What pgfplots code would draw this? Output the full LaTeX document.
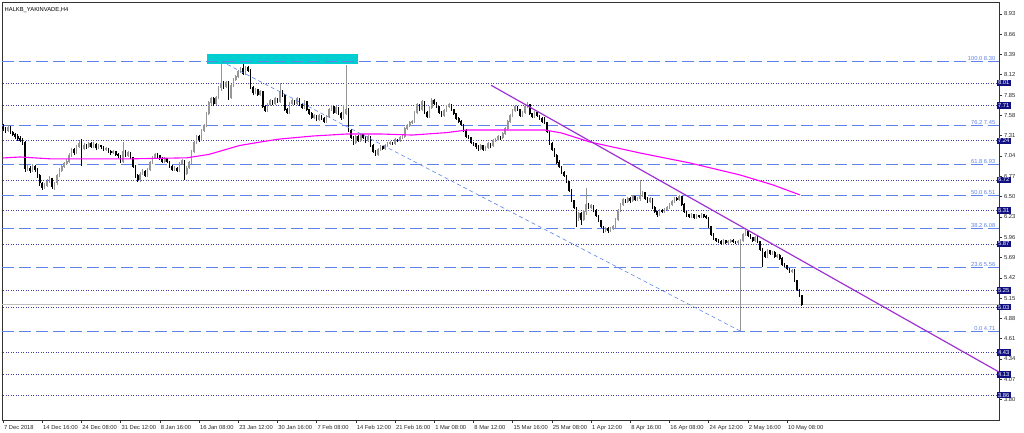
\documentclass[border=0pt]{standalone}
\usepackage{pgfplots}
\usepackage{pgfplotstable}
\pgfplotsset{compat=1.18}
\usepackage{fontspec}
\setmainfont{Liberation Sans}
\definecolor{navybox}{RGB}{16,16,128}
\definecolor{dotblue}{RGB}{60,60,170}
\definecolor{fibblue}{RGB}{95,130,235}
\definecolor{bullgray}{RGB}{150,150,150}
\definecolor{maMag}{RGB}{255,0,255}
\definecolor{trendpurple}{RGB}{160,50,210}
\definecolor{boxcyan}{RGB}{0,206,209}
\newcommand{\tf}{\fontsize{5.8}{6.5}\selectfont}

\pgfplotstableread{
o h l c
7.42 7.46 7.37 7.40
7.40 7.43 7.35 7.38
7.38 7.45 7.36 7.42
7.42 7.44 7.33 7.35
7.35 7.37 7.30 7.33
7.33 7.35 7.27 7.30
7.30 7.33 7.24 7.27
7.27 7.30 7.22 7.25
7.25 7.28 7.19 7.22
7.22 7.24 6.83 6.87
6.87 6.92 6.84 6.88
6.88 6.90 6.81 6.84
6.84 6.93 6.82 6.90
6.90 6.92 6.83 6.86
6.86 6.88 6.75 6.78
6.78 6.80 6.64 6.68
6.68 6.70 6.59 6.62
6.62 6.68 6.60 6.65
6.65 6.73 6.63 6.70
6.70 6.77 6.68 6.74
6.74 6.75 6.60 6.63
6.63 6.70 6.59 6.68
6.68 6.80 6.66 6.78
6.78 6.88 6.76 6.85
6.85 6.92 6.83 6.90
6.90 6.96 6.88 6.94
6.94 7.00 6.92 6.97
6.97 7.08 6.95 7.05
7.05 7.15 7.03 7.12
7.12 7.14 7.05 7.08
7.08 7.19 7.06 7.16
7.16 7.25 7.14 7.20
7.20 7.26 6.90 7.14
7.14 7.21 7.12 7.18
7.18 7.20 7.13 7.16
7.16 7.23 7.14 7.20
7.20 7.22 7.14 7.17
7.17 7.22 7.15 7.19
7.19 7.21 7.12 7.15
7.15 7.20 7.13 7.18
7.18 7.19 7.13 7.16
7.16 7.17 7.10 7.12
7.12 7.16 7.10 7.14
7.14 7.15 7.08 7.10
7.10 7.12 7.05 7.08
7.08 7.12 7.06 7.10
7.10 7.11 7.04 7.06
7.06 7.08 7.01 7.04
7.04 7.05 6.94 6.97
6.97 7.23 6.95 7.10
7.10 7.12 7.02 7.05
7.05 7.10 7.03 7.08
7.08 7.09 7.00 7.02
7.02 7.03 6.88 6.90
6.90 6.92 6.75 6.78
6.78 6.80 6.69 6.72
6.72 6.82 6.70 6.80
6.80 6.86 6.78 6.84
6.84 6.85 6.76 6.78
6.78 6.88 6.76 6.86
6.86 6.97 6.84 6.95
6.95 7.04 6.93 7.02
7.02 7.08 7.00 7.06
7.06 7.08 7.01 7.04
7.04 7.05 6.98 7.00
7.00 7.02 6.95 6.97
6.97 7.02 6.95 7.00
7.00 7.01 6.94 6.96
6.96 6.97 6.88 6.90
6.90 6.92 6.84 6.86
6.86 6.90 6.84 6.88
6.88 6.89 6.83 6.85
6.85 6.96 6.83 6.94
6.94 7.00 6.92 6.98
6.98 6.99 6.72 6.80
6.80 6.90 6.78 6.88
6.88 6.97 6.86 6.95
6.95 7.12 6.93 7.10
7.10 7.24 7.08 7.22
7.22 7.32 7.20 7.30
7.30 7.32 7.23 7.26
7.26 7.40 7.24 7.38
7.38 7.47 7.36 7.45
7.45 7.62 7.43 7.60
7.60 7.77 7.58 7.75
7.75 7.83 7.72 7.80
7.80 7.82 7.71 7.74
7.74 7.84 7.72 7.82
7.82 7.97 7.80 7.95
7.95 8.30 7.90 8.00
8.00 8.03 7.93 7.96
7.96 8.04 7.94 8.02
8.02 8.03 7.78 7.82
7.82 8.00 7.80 7.98
7.98 8.07 7.96 8.05
8.05 8.12 8.03 8.10
8.10 8.18 8.08 8.16
8.16 8.22 8.14 8.20
8.20 8.26 8.12 8.14
8.14 8.24 8.12 8.22
8.22 8.23 8.15 8.18
8.18 8.19 7.93 7.95
7.95 7.97 7.85 7.88
7.88 7.94 7.86 7.92
7.92 7.93 7.84 7.86
7.86 7.92 7.84 7.90
7.90 7.91 7.68 7.70
7.70 7.72 7.62 7.65
7.65 7.74 7.63 7.72
7.72 7.80 7.70 7.78
7.78 7.79 7.72 7.74
7.74 7.82 7.72 7.80
7.80 7.81 7.74 7.76
7.76 8.01 7.74 7.90
7.90 7.92 7.83 7.85
7.85 7.86 7.64 7.66
7.66 7.68 7.60 7.62
7.62 7.76 7.60 7.74
7.74 7.80 7.72 7.78
7.78 7.79 7.72 7.74
7.74 7.82 7.72 7.80
7.80 7.81 7.70 7.72
7.72 7.74 7.66 7.68
7.68 7.78 7.66 7.76
7.76 7.77 7.64 7.66
7.66 7.67 7.58 7.60
7.60 7.62 7.53 7.55
7.55 7.60 7.53 7.58
7.58 7.59 7.50 7.52
7.52 7.60 7.50 7.58
7.58 7.59 7.52 7.54
7.54 7.56 7.48 7.50
7.50 7.58 7.48 7.56
7.56 7.68 7.54 7.66
7.66 7.72 7.64 7.70
7.70 7.71 7.60 7.62
7.62 7.70 7.60 7.68
7.68 7.69 7.58 7.60
7.60 7.62 7.52 7.55
7.55 7.72 7.53 7.60
7.60 8.25 7.58 7.66
7.66 7.68 7.36 7.38
7.38 7.40 7.26 7.28
7.28 7.30 7.19 7.22
7.22 7.32 7.20 7.30
7.30 7.32 7.23 7.25
7.25 7.34 7.23 7.32
7.32 7.33 7.26 7.28
7.28 7.30 7.21 7.24
7.24 7.32 7.22 7.30
7.30 7.31 7.16 7.18
7.18 7.20 7.08 7.10
7.10 7.12 7.04 7.06
7.06 7.14 7.04 7.12
7.12 7.18 7.10 7.16
7.16 7.17 7.12 7.14
7.14 7.20 7.12 7.18
7.18 7.22 7.16 7.20
7.20 7.24 7.18 7.22
7.22 7.23 7.18 7.20
7.20 7.28 7.18 7.26
7.26 7.27 7.22 7.24
7.24 7.30 7.22 7.28
7.28 7.32 7.26 7.30
7.30 7.42 7.28 7.40
7.40 7.46 7.38 7.44
7.44 7.50 7.42 7.48
7.48 7.52 7.46 7.50
7.50 7.64 7.48 7.62
7.62 7.74 7.60 7.72
7.72 7.73 7.64 7.66
7.66 7.78 7.64 7.76
7.76 7.77 7.60 7.62
7.62 7.64 7.54 7.56
7.56 7.70 7.54 7.68
7.68 7.81 7.66 7.78
7.78 7.80 7.72 7.74
7.74 7.76 7.68 7.70
7.70 7.71 7.60 7.62
7.62 7.64 7.56 7.58
7.58 7.66 7.56 7.64
7.64 7.72 7.62 7.70
7.70 7.75 7.68 7.72
7.72 7.73 7.64 7.66
7.66 7.67 7.58 7.60
7.60 7.61 7.52 7.54
7.54 7.56 7.48 7.50
7.50 7.52 7.44 7.46
7.46 7.47 7.36 7.38
7.38 7.40 7.28 7.30
7.30 7.32 7.26 7.28
7.28 7.29 7.20 7.22
7.22 7.23 7.17 7.20
7.20 7.21 7.13 7.16
7.16 7.18 7.10 7.14
7.14 7.20 7.12 7.18
7.18 7.19 7.10 7.12
7.12 7.17 7.10 7.15
7.15 7.22 7.13 7.20
7.20 7.21 7.15 7.18
7.18 7.26 7.16 7.24
7.24 7.28 7.22 7.26
7.26 7.32 7.24 7.30
7.30 7.31 7.25 7.28
7.28 7.36 7.26 7.34
7.34 7.42 7.32 7.40
7.40 7.52 7.38 7.50
7.50 7.60 7.48 7.58
7.58 7.66 7.56 7.64
7.64 7.72 7.62 7.70
7.70 7.71 7.64 7.66
7.66 7.67 7.56 7.58
7.58 7.64 7.56 7.62
7.62 7.72 7.60 7.70
7.70 7.76 7.68 7.72
7.72 7.73 7.58 7.60
7.60 7.61 7.54 7.56
7.56 7.64 7.54 7.62
7.62 7.63 7.56 7.58
7.58 7.59 7.52 7.54
7.54 7.56 7.48 7.50
7.50 7.56 7.46 7.48
7.48 7.49 7.34 7.36
7.36 7.37 7.18 7.20
7.20 7.22 7.10 7.12
7.12 7.14 7.02 7.04
7.04 7.06 6.93 6.95
6.95 6.98 6.88 6.90
6.90 6.91 6.80 6.82
6.82 6.84 6.76 6.78
6.78 6.79 6.68 6.70
6.70 6.71 6.56 6.58
6.58 6.60 6.43 6.45
6.45 6.46 6.33 6.35
6.35 6.36 6.10 6.22
6.22 6.30 6.18 6.28
6.28 6.29 6.12 6.20
6.20 6.32 6.18 6.30
6.30 6.62 6.25 6.40
6.40 6.42 6.33 6.35
6.35 6.40 6.33 6.38
6.38 6.39 6.30 6.32
6.32 6.33 6.23 6.25
6.25 6.26 6.16 6.18
6.18 6.19 6.08 6.10
6.10 6.11 6.02 6.06
6.06 6.10 6.03 6.08
6.08 6.09 6.02 6.05
6.05 6.09 6.03 6.07
6.07 6.12 6.05 6.10
6.10 6.22 6.08 6.20
6.20 6.34 6.18 6.32
6.32 6.42 6.30 6.40
6.40 6.48 6.38 6.46
6.46 6.47 6.41 6.44
6.44 6.50 6.42 6.48
6.48 6.49 6.42 6.45
6.45 6.52 6.43 6.50
6.50 6.51 6.44 6.46
6.46 6.50 6.44 6.48
6.48 6.72 6.44 6.52
6.52 6.57 6.50 6.55
6.55 6.56 6.46 6.48
6.48 6.49 6.42 6.44
6.44 6.49 6.42 6.47
6.47 6.48 6.34 6.36
6.36 6.37 6.28 6.30
6.30 6.31 6.23 6.26
6.26 6.34 6.24 6.32
6.32 6.33 6.28 6.30
6.30 6.35 6.28 6.33
6.33 6.37 6.31 6.35
6.35 6.42 6.33 6.40
6.40 6.46 6.38 6.44
6.44 6.50 6.42 6.48
6.48 6.49 6.44 6.46
6.46 6.52 6.44 6.50
6.50 6.51 6.38 6.40
6.40 6.41 6.28 6.30
6.30 6.31 6.23 6.26
6.26 6.27 6.21 6.24
6.24 6.28 6.22 6.26
6.26 6.27 6.20 6.22
6.22 6.27 6.20 6.25
6.25 6.26 6.22 6.24
6.24 6.28 6.22 6.26
6.26 6.27 6.22 6.24
6.24 6.25 6.20 6.22
6.22 6.23 6.08 6.10
6.10 6.11 5.98 6.00
6.00 6.01 5.92 5.94
5.94 5.95 5.90 5.92
5.92 5.94 5.88 5.90
5.90 5.92 5.86 5.88
5.88 5.93 5.86 5.91
5.91 5.92 5.87 5.89
5.89 5.92 5.87 5.90
5.90 5.94 5.88 5.92
5.92 5.93 5.88 5.90
5.90 5.91 5.87 5.89
5.89 5.92 5.87 5.90
5.90 5.93 4.71 5.92
5.92 6.02 5.90 6.00
6.00 6.07 5.98 6.04
6.04 6.05 5.96 5.98
5.98 6.00 5.93 5.95
5.95 5.96 5.90 5.92
5.92 5.98 5.90 5.96
5.96 5.97 5.88 5.90
5.90 5.91 5.78 5.80
5.80 5.82 5.56 5.76
5.76 5.77 5.68 5.70
5.70 5.80 5.68 5.78
5.78 5.79 5.72 5.74
5.74 5.78 5.72 5.76
5.76 5.77 5.68 5.70
5.70 5.74 5.68 5.72
5.72 5.73 5.66 5.68
5.68 5.69 5.58 5.60
5.60 5.62 5.56 5.58
5.58 5.59 5.52 5.54
5.54 5.55 5.48 5.50
5.50 5.54 5.48 5.52
5.52 5.53 5.36 5.38
5.38 5.39 5.24 5.26
5.26 5.27 5.16 5.18
5.18 5.19 5.05 5.07
}\candles

\begin{document}
\begin{tikzpicture}
\path[use as bounding box] (0,0) rectangle (1024pt,433pt);
\begin{axis}[
  at={(2pt,13pt)}, anchor=south west,
  scale only axis, width=997pt, height=418pt,
  xmin=-0.41, xmax=406.5, ymin=3.5286, ymax=9.0871,
  axis line style={black!80, line width=0.6pt},
  xtick={0,16,...,320},
  xticklabels={7 Dec 2018,14 Dec 16:00,24 Dec 08:00,31 Dec 12:00,8 Jan 16:00,16 Jan 08:00,23 Jan 12:00,30 Jan 16:00,7 Feb 08:00,14 Feb 12:00,21 Feb 16:00,1 Mar 08:00,8 Mar 12:00,15 Mar 16:00,25 Mar 08:00,1 Apr 12:00,8 Apr 16:00,16 Apr 08:00,24 Apr 12:00,2 May 16:00,10 May 08:00},
  xtick pos=bottom,
  ytick pos=right,
  yticklabel pos=right,
  tick align=outside,
  major tick length=3pt,
  tick style={black!80, line width=0.5pt},
  ytick={8.93,8.66,8.39,8.12,7.85,7.58,7.31,7.04,6.77,6.50,6.23,5.96,5.69,5.42,5.15,4.88,4.61,4.34,4.07,3.80},
  tick label style={font=\tf, text=black!85},
  xticklabel style={anchor=north west, xshift=-2.5pt, yshift=1.5pt},
  yticklabel style={/pgf/number format/.cd, fixed, fixed zerofill, precision=2, assume math mode=true, /tikz/.cd, anchor=west, xshift=-1.5pt},
  extra y ticks={8.01,7.71,7.24,6.72,6.31,5.87,5.25,5.03,4.43,4.13,3.86},
  extra y tick style={major tick length=0pt, yticklabel style={fill=navybox, text=white, inner xsep=1.6pt, inner ysep=1.3pt, xshift=-1.2pt}},
  clip=true,
]
% cyan rectangle
\addplot[fill=boxcyan, draw=none, forget plot] coordinates {(83.3,8.263) (144.9,8.263) (144.9,8.396) (83.3,8.396)} -- cycle;

% horizontal dotted levels
\pgfplotsinvokeforeach{8.01,7.71,7.24,6.72,6.31,5.87,5.25,5.03,4.43,4.13,3.86}{
  \addplot[dotblue, dash pattern=on 0.9pt off 1.6pt, line width=0.8pt, forget plot] coordinates {(-5,#1) (420,#1)};
}
% bid line
\addplot[black!25, line width=0.7pt, forget plot] coordinates {(-5,5.07) (420,5.07)};
% fibonacci levels
\pgfplotsinvokeforeach{8.30,7.45,6.93,6.51,6.08,5.56,4.71}{
  \addplot[fibblue, dash pattern=on 12pt off 5pt, line width=0.85pt, forget plot] coordinates {(-0.41,#1) (420,#1)};
}

% candles: wicks
\addplot[draw=none, mark=none, forget plot,
  error bars/.cd, y dir=both, y explicit, error mark=none,
  error bar style={draw=bullgray, solid, line width=0.7pt}]
  table[x expr=\coordindex,
        y expr={\thisrow{c}>=\thisrow{o} ? (\thisrow{h}+\thisrow{l})/2 : nan},
        y error expr={(\thisrow{h}-\thisrow{l})/2}] {\candles};
\addplot[draw=none, mark=none, forget plot,
  error bars/.cd, y dir=both, y explicit, error mark=none,
  error bar style={draw=black, solid, line width=0.7pt}]
  table[x expr=\coordindex,
        y expr={\thisrow{c}<\thisrow{o} ? (\thisrow{h}+\thisrow{l})/2 : nan},
        y error expr={(\thisrow{h}-\thisrow{l})/2}] {\candles};
% candles: bodies
\addplot[draw=none, mark=none, forget plot,
  error bars/.cd, y dir=both, y explicit, error mark=none,
  error bar style={draw=bullgray, solid, line width=1.6pt}]
  table[x expr=\coordindex,
        y expr={\thisrow{c}>=\thisrow{o} ? (\thisrow{o}+\thisrow{c})/2 : nan},
        y error expr={abs(\thisrow{c}-\thisrow{o})/2+0.006}] {\candles};
\addplot[draw=none, mark=none, forget plot,
  error bars/.cd, y dir=both, y explicit, error mark=none,
  error bar style={draw=black, solid, line width=1.6pt}]
  table[x expr=\coordindex,
        y expr={\thisrow{c}<\thisrow{o} ? (\thisrow{o}+\thisrow{c})/2 : nan},
        y error expr={abs(\thisrow{c}-\thisrow{o})/2+0.006}] {\candles};

% moving average
\addplot[maMag, line width=1.1pt, forget plot] coordinates {
(0,7.013) (6.9,7.026) (20,7.00) (50,7.00) (75,7.015) (84,7.06) (96.7,7.18) (107.8,7.24)
(113,7.265) (126.5,7.305) (140.4,7.332) (153.9,7.332) (167,7.318) (181,7.35) (189.4,7.385)
(208,7.385) (221,7.385) (228,7.345) (239.6,7.225) (260,7.079) (280.4,6.946) (300.8,6.787)
(314.3,6.654) (325.3,6.521)};

% fibonacci trend line
\addplot[fibblue, dash pattern=on 4pt off 3pt, line width=0.6pt, forget plot] coordinates {(89,8.30) (301,4.71)};
% purple trend line
\addplot[trendpurple, line width=1.2pt, forget plot] coordinates {(199.2,7.98) (406.5,4.167)};

% fib labels
\node[anchor=south east, font=\tf, text=fibblue, inner sep=0.6pt] at (axis cs:405.3,8.30) {100.0 8.30};
\node[anchor=south east, font=\tf, text=fibblue, inner sep=0.6pt] at (axis cs:405.3,7.45) {76.2 7.45};
\node[anchor=south east, font=\tf, text=fibblue, inner sep=0.6pt] at (axis cs:405.3,6.93) {61.8 6.93};
\node[anchor=south east, font=\tf, text=fibblue, inner sep=0.6pt] at (axis cs:405.3,6.51) {50.0 6.51};
\node[anchor=south east, font=\tf, text=fibblue, inner sep=0.6pt] at (axis cs:405.3,6.08) {38.2 6.08};
\node[anchor=south east, font=\tf, text=fibblue, inner sep=0.6pt] at (axis cs:405.3,5.56) {23.6 5.56};
\node[anchor=south east, font=\tf, text=fibblue, inner sep=0.6pt] at (axis cs:405.3,4.71) {0.0 4.71};
% title
\node[anchor=north west, font=\tf, inner sep=0pt] at (rel axis cs:0,1) [xshift=2.5pt, yshift=-5.5pt] {HALKB\_YAKINVADE,H4};
\end{axis}
\end{tikzpicture}
\end{document}
